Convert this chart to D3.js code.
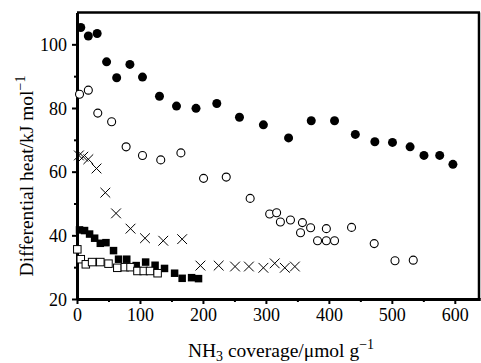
<!DOCTYPE html>
<html lang="en">
<head>
  <meta charset="UTF-8">
  <title>Differential heat vs NH3 coverage</title>
  <script src="https://d3js.org/d3.v7.min.js"></script>
  <style>
    body { margin: 0; background: #fff; }
    .axis path, .axis line { stroke: #000; }
  </style>
</head>
<body>
  <svg width="481" height="363"></svg>

  <script>
    // filled circles
    const filledCircleX = [6, 18, 32, 47, 63, 84, 104, 131, 158, 189, 222, 258, 296, 336, 372, 409, 442, 473, 501, 529, 551, 576, 597];
    const filledCircleY = [105.3, 102.6, 103.4, 94.5, 89.5, 93.7, 89.7, 83.7, 80.6, 79.9, 81.4, 77.1, 74.7, 70.6, 76, 76, 71.7, 69.4, 69.2, 67.8, 65.1, 65.1, 62.3];

    // open circles
    const openCircleX = [4, 18, 33, 55, 78, 104, 133, 165, 201, 237, 275, 306, 317, 323, 339, 358, 355, 371, 382, 396, 396, 409, 436, 472, 505, 534];
    const openCircleY = [84.3, 85.6, 78.4, 75.7, 67.8, 65.1, 63.7, 65.9, 57.9, 58.3, 51.6, 46.7, 47.1, 44.2, 44.8, 44, 40.8, 42.4, 38.3, 42.1, 38.3, 38.3, 42.5, 37.4, 32, 32.2];

    // crosses
    const crossX = [3, 10, 18, 31, 45, 62, 85, 108, 137, 167, 196, 225, 251, 273, 296, 314, 330, 346];
    const crossY = [65.1, 64.7, 63.9, 61, 53.4, 46.9, 42.1, 39.1, 38.3, 38.8, 30.5, 30.5, 30.2, 30.2, 29.8, 31.2, 29.8, 30.2];

    // filled squares
    const filledSquareX = [4, 12, 20, 28, 37, 46, 58, 66, 79, 94, 109, 124, 139, 155, 167, 182, 193];
    const filledSquareY = [41.7, 41.5, 40.4, 39.1, 37.5, 37.7, 35.2, 32.5, 32.5, 30.5, 31.6, 30.6, 29.6, 28.1, 26.5, 26.7, 26.4];

    // open squares
    const openSquareX = [0.5, 6, 14, 24, 37, 50, 64, 76, 85, 96, 106, 116, 128];
    const openSquareY = [35.6, 32.5, 30.9, 31.6, 31.6, 31.1, 29.8, 30, 30, 28.8, 28.8, 28.8, 28.1];

    const xMajor = [0, 100, 200, 300, 400, 500, 600];
    const xMinor = [50, 150, 250, 350, 450, 550];
    const yMajor = [20, 40, 60, 80, 100];
    const yMinor = [30, 50, 70, 90];

    const FONT = "'Liberation Serif', 'DejaVu Serif', 'Times New Roman', Times, serif";
    const W = 481, H = 363;
    const margin = { left: 77, right: 1, top: 12.5, bottom: 64 };
    const svg = d3.select("svg");

    const x = d3.scaleLinear().domain([0, 640]).range([margin.left, W - margin.right]);
    const y = d3.scaleLinear().domain([20, 110]).range([H - margin.bottom, margin.top]);

    const zip = (xs, ys) => xs.map((v, i) => [v, ys[i]]);

    // frame (top and right)
    svg.append("line")
      .attr("x1", x(0)).attr("x2", x(640)).attr("y1", y(110)).attr("y2", y(110))
      .attr("stroke", "#000").attr("stroke-width", 2.5);
    svg.append("line")
      .attr("x1", x(640) - 1).attr("x2", x(640) - 1).attr("y1", y(110)).attr("y2", y(20))
      .attr("stroke", "#000").attr("stroke-width", 2.5);

    // axes
    svg.append("g").attr("class", "axis")
      .attr("transform", `translate(0,${y(20)})`)
      .call(d3.axisBottom(x).tickValues(xMajor).tickSize(5).tickSizeOuter(0).tickPadding(4));
    svg.append("g").attr("class", "axis")
      .attr("transform", `translate(0,${y(20)})`)
      .call(d3.axisBottom(x).tickValues(xMinor).tickSize(3).tickSizeOuter(0).tickFormat(""));
    const gy = svg.append("g").attr("class", "axis")
      .attr("transform", `translate(${x(0)},0)`)
      .call(d3.axisLeft(y).tickValues(yMajor).tickSize(5).tickSizeOuter(0).tickPadding(5));
    svg.append("g").attr("class", "axis")
      .attr("transform", `translate(${x(0)},0)`)
      .call(d3.axisLeft(y).tickValues(yMinor).tickSize(3).tickSizeOuter(0).tickFormat(""));

    svg.selectAll(".axis").attr("font-family", FONT).attr("font-size", 18);
    svg.selectAll(".axis text").attr("fill", "#000");
    svg.selectAll(".axis path").attr("stroke-width", 3);
    svg.selectAll(".axis line").attr("stroke-width", 2);
    gy.selectAll("text").attr("dy", "0.34em");

    // markers
    const plot = svg.append("g");

    plot.selectAll(".oc").data(zip(openCircleX, openCircleY)).enter()
      .append("circle")
      .attr("cx", d => x(d[0])).attr("cy", d => y(d[1])).attr("r", 4)
      .attr("fill", "#fff").attr("stroke", "#000").attr("stroke-width", 1.1);

    plot.selectAll(".fc").data(zip(filledCircleX, filledCircleY)).enter()
      .append("circle")
      .attr("cx", d => x(d[0])).attr("cy", d => y(d[1])).attr("r", 4.5)
      .attr("fill", "#000");

    const crossPath = d3.symbol().type(d3.symbolX).size(64);
    plot.selectAll(".cx").data(zip(crossX, crossY)).enter()
      .append("path")
      .attr("d", crossPath)
      .attr("transform", d => `translate(${x(d[0])},${y(d[1])})`)
      .attr("fill", "none").attr("stroke", "#000").attr("stroke-width", 1);

    const sq = 7.5;
    plot.selectAll(".fs").data(zip(filledSquareX, filledSquareY)).enter()
      .append("rect")
      .attr("x", d => x(d[0]) - sq / 2).attr("y", d => y(d[1]) - sq / 2)
      .attr("width", sq).attr("height", sq)
      .attr("fill", "#000");

    plot.selectAll(".os").data(zip(openSquareX, openSquareY)).enter()
      .append("rect")
      .attr("x", d => x(d[0]) - sq / 2).attr("y", d => y(d[1]) - sq / 2)
      .attr("width", sq).attr("height", sq)
      .attr("fill", "#fff").attr("stroke", "#000").attr("stroke-width", 1);

    // axis titles
    const xt = svg.append("text")
      .attr("x", 281).attr("y", 357)
      .attr("text-anchor", "middle")
      .attr("font-family", FONT)
      .attr("font-size", 19.5);
    xt.append("tspan").text("NH");
    xt.append("tspan").attr("font-size", 14).attr("dy", 4).text("3");
    xt.append("tspan").attr("dy", -4).text(" coverage/\u03bcmol g");
    xt.append("tspan").attr("font-size", 14).attr("dy", -8).text("\u22121");

    const yt = svg.append("text")
      .attr("transform", "translate(33,176) rotate(-90)")
      .attr("text-anchor", "middle")
      .attr("font-family", FONT)
      .attr("font-size", 19.5);
    yt.append("tspan").text("Differential heat/kJ mol");
    yt.append("tspan").attr("font-size", 14).attr("dy", -8).text("\u22121");
  </script>
</body>
</html>
